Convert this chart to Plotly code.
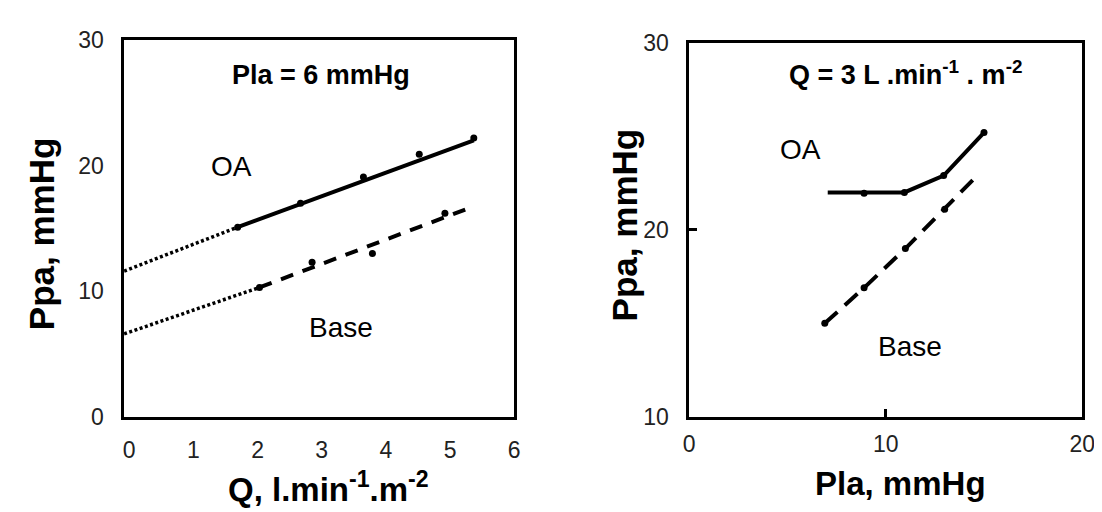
import plotly.graph_objects as go

# ---- Left panel data (Pla = 6 mmHg) ----
q_oa = [1.69, 2.67, 3.65, 4.52, 5.37]
p_oa = [15.1, 17.0, 19.1, 20.9, 22.2]
q_oa_fit = [1.69, 5.37]
p_oa_fit = [15.1, 22.0]
q_oa_ext = [-0.08, 1.69]
p_oa_ext = [11.6, 15.1]

q_base = [2.03, 2.85, 3.79, 4.92]
p_base = [10.3, 12.3, 13.0, 16.2]
q_base_fit = [2.03, 5.34]
p_base_fit = [10.3, 16.7]
q_base_ext = [-0.08, 2.03]
p_base_ext = [6.6, 10.3]

# ---- Right panel data (Q = 3 L/min/m2) ----
pla_oa_line = [7.05, 8.9, 10.95, 12.95, 15.0]
ppa_oa_line = [22.0, 22.0, 22.0, 22.9, 25.2]
pla_oa_pts = [8.9, 10.95, 12.95, 15.0]
ppa_oa_pts = [21.95, 22.0, 22.9, 25.2]

pla_base_line = [6.9, 8.9, 11.0, 13.0, 14.65]
ppa_base_line = [15.0, 16.9, 19.0, 21.1, 22.9]
pla_base_pts = [6.9, 8.9, 11.0, 13.0]
ppa_base_pts = [15.0, 16.9, 19.0, 21.1]

left_xticks = [0, 1, 2, 3, 4, 5, 6]
left_yticks = [0, 10, 20, 30]
right_xticks = [0, 10, 20]
right_yticks = [10, 20, 30]

BLK = "black"
FONT = "Liberation Sans, Arial, sans-serif"
fig = go.Figure()

def add_line(x, y, dash, xa, ya, width=3.5):
    fig.add_trace(go.Scatter(x=x, y=y, mode="lines", xaxis=xa, yaxis=ya,
                             line=dict(color=BLK, width=width, dash=dash),
                             showlegend=False, hoverinfo="skip"))

def add_pts(x, y, xa, ya):
    fig.add_trace(go.Scatter(x=x, y=y, mode="markers", xaxis=xa, yaxis=ya,
                             marker=dict(color=BLK, size=7),
                             showlegend=False))

# left
add_line(q_oa_ext, p_oa_ext, "3px,2.5px", "x", "y", 3.5)
add_line(q_oa_fit, p_oa_fit, "solid", "x", "y", 4)
add_pts(q_oa, p_oa, "x", "y")
add_line(q_base_ext, p_base_ext, "3px,2.5px", "x", "y", 3.5)
add_line(q_base_fit, p_base_fit, "13px,10px", "x", "y", 4)
add_pts(q_base, p_base, "x", "y")

# right
add_line(pla_oa_line, ppa_oa_line, "solid", "x2", "y2", 4)
add_pts(pla_oa_pts, ppa_oa_pts, "x2", "y2")
add_line(pla_base_line, ppa_base_line, "17px,10px", "x2", "y2", 4)
add_pts(pla_base_pts, ppa_base_pts, "x2", "y2")

tickfont = dict(family=FONT, size=23, color="#222")
common = dict(showline=True, linecolor=BLK, linewidth=2.5, mirror=True,
              showgrid=False, zeroline=False, tickfont=tickfont)

fig.update_layout(
    width=1102, height=512,
    margin=dict(l=0, r=0, t=0, b=0),
    paper_bgcolor="white", plot_bgcolor="white",
    font=dict(family=FONT, color=BLK),
    xaxis=dict(domain=[112/1102, 509/1102], range=[-0.08, 6.0], tickvals=left_xticks,
               ticks="", ticklabelstandoff=11, anchor="y", **common),
    yaxis=dict(domain=[1-417/512, 1-20/512], range=[0, 30], tickvals=left_yticks,
               ticks="", ticklabelstandoff=13, anchor="x", **common),
    xaxis2=dict(domain=[687/1102, 1087/1102], range=[0, 20], tickvals=right_xticks,
                ticks="inside", ticklen=8, tickwidth=2.5, tickcolor=BLK,
                ticklabelstandoff=5, anchor="y2", **common),
    yaxis2=dict(domain=[1-417/512, 1-23/512], range=[10, 30], tickvals=right_yticks,
                ticks="inside", ticklen=8, tickwidth=2.5, tickcolor=BLK,
                ticklabelstandoff=13, anchor="x2", **common),
)

ann = []
def txt(x, y, text, xref, yref, size, bold=False, angle=0):
    ann.append(dict(x=x, y=y, xref=xref, yref=yref, text=("<b>%s</b>" % text) if bold else text,
                    showarrow=False, xanchor="center", yanchor="middle", textangle=angle,
                    font=dict(family=FONT, size=size, color=BLK)))

txt(2.99, 27.2, "Pla = 6 mmHg", "x", "y", 27, True)
txt(1.60, 19.95, "OA", "x", "y", 28)
txt(3.30, 7.1, "Base", "x", "y", 28)
txt(11.03, 28.4, "Q = 3 L .min<sup>-1</sup> . m<sup>-2</sup>", "x2", "y2", 27, True)
txt(5.65, 24.3, "OA", "x2", "y2", 28)
txt(11.25, 13.75, "Base", "x2", "y2", 28)

txt(28/1102, 1-224/512, "Ppa, mmHg", "paper", "paper", 35, True, -90)
txt(320/1102, 1-491/512, "Q, l.min<sup>-1</sup>.m<sup>-2</sup>", "paper", "paper", 33, True)
txt(621/1102, 1-215/512, "Ppa, mmHg", "paper", "paper", 35, True, -90)
txt(902/1102, 1-487/512, "Pla, mmHg", "paper", "paper", 33, True)

fig.update_layout(annotations=ann)
fig.write_html("out.html")
